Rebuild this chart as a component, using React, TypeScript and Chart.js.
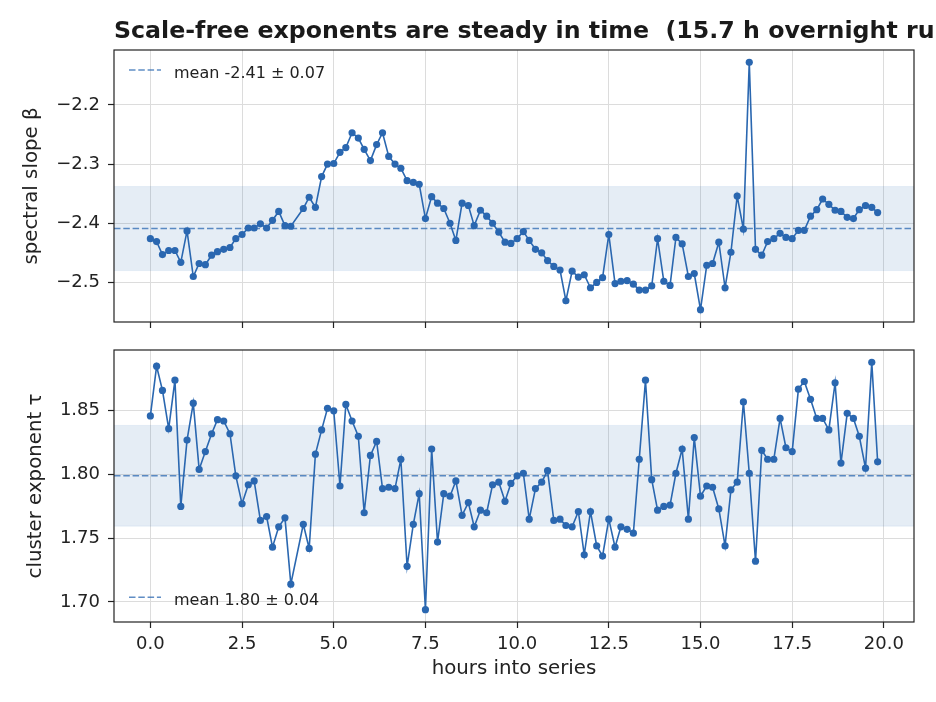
import React, { useEffect, useRef } from 'react';
import { Chart, registerables } from 'chart.js';

Chart.register(...registerables);

const TITLE = 'Scale-free exponents are steady in time  (15.7 h overnight run)';
const X_LABEL = 'hours into series';
const BETA_LABEL = 'spectral slope β';
const TAU_LABEL = 'cluster exponent τ';
const BETA_LEGEND = 'mean -2.41 ± 0.07';
const TAU_LEGEND = 'mean 1.80 ± 0.04';

// sample times (hours); the 4.00 h sample is missing
const hours = [
  0.0, 0.17, 0.33, 0.5, 0.67, 0.83,
  1.0, 1.17, 1.33, 1.5, 1.67, 1.83,
  2.0, 2.17, 2.33, 2.5, 2.67, 2.83,
  3.0, 3.17, 3.33, 3.5, 3.67, 3.83,
  4.17, 4.33, 4.5, 4.67, 4.83,
  5.0, 5.17, 5.33, 5.5, 5.67, 5.83,
  6.0, 6.17, 6.33, 6.5, 6.67, 6.83,
  7.0, 7.17, 7.33, 7.5, 7.67, 7.83,
  8.0, 8.17, 8.33, 8.5, 8.67, 8.83,
  9.0, 9.17, 9.33, 9.5, 9.67, 9.83,
  10.0, 10.17, 10.33, 10.5, 10.67, 10.83,
  11.0, 11.17, 11.33, 11.5, 11.67, 11.83,
  12.0, 12.17, 12.33, 12.5, 12.67, 12.83,
  13.0, 13.17, 13.33, 13.5, 13.67, 13.83,
  14.0, 14.17, 14.33, 14.5, 14.67, 14.83,
  15.0, 15.17, 15.33, 15.5, 15.67, 15.83,
  16.0, 16.17, 16.33, 16.5, 16.67, 16.83,
  17.0, 17.17, 17.33, 17.5, 17.67, 17.83,
  18.0, 18.17, 18.33, 18.5, 18.67, 18.83,
  19.0, 19.17, 19.33, 19.5, 19.67, 19.83,
];

const beta = [
  -2.426, -2.431, -2.453, -2.446, -2.446, -2.466,
  -2.413, -2.49, -2.468, -2.47, -2.454, -2.448,
  -2.444, -2.441, -2.426, -2.419, -2.408, -2.408,
  -2.401, -2.408, -2.395, -2.38, -2.404, -2.405,
  -2.375, -2.356, -2.373, -2.321, -2.3,
  -2.299, -2.28, -2.272, -2.247, -2.256, -2.275,
  -2.294, -2.267, -2.247, -2.287, -2.3, -2.307,
  -2.328, -2.331, -2.334, -2.392, -2.355, -2.366,
  -2.375, -2.4, -2.429, -2.366, -2.37, -2.404,
  -2.378, -2.388, -2.4, -2.415, -2.432, -2.434,
  -2.426, -2.414, -2.429, -2.444, -2.45, -2.463,
  -2.473, -2.479, -2.531, -2.481, -2.491, -2.487,
  -2.509, -2.5, -2.492, -2.419, -2.502, -2.498,
  -2.497, -2.503, -2.513, -2.513, -2.506, -2.426,
  -2.498, -2.505, -2.424, -2.435, -2.49, -2.485,
  -2.546, -2.471, -2.468, -2.432, -2.509, -2.449,
  -2.354, -2.41, -2.128, -2.444, -2.454, -2.431,
  -2.426, -2.417, -2.424, -2.426, -2.412, -2.412,
  -2.388, -2.377, -2.359, -2.368, -2.378, -2.38,
  -2.39, -2.392, -2.377, -2.37, -2.373, -2.382,
];

const tau = [
  1.846, 1.885, 1.866, 1.836, 1.874, 1.775,
  1.827, 1.856, 1.804, 1.818, 1.832, 1.843,
  1.842, 1.832, 1.799, 1.777, 1.792, 1.795,
  1.764, 1.767, 1.743, 1.759, 1.766, 1.714,
  1.761, 1.742, 1.816, 1.835, 1.852,
  1.85, 1.791, 1.855, 1.842, 1.83, 1.77,
  1.815, 1.826, 1.789, 1.79, 1.789, 1.812,
  1.728, 1.761, 1.785, 1.694, 1.82, 1.747,
  1.785, 1.783, 1.795, 1.768, 1.778, 1.759,
  1.772, 1.77, 1.792, 1.794, 1.779, 1.793,
  1.799, 1.801, 1.765, 1.789, 1.794, 1.803,
  1.764, 1.765, 1.76, 1.759, 1.771, 1.737,
  1.771, 1.744, 1.736, 1.765, 1.743, 1.759,
  1.757, 1.754, 1.812, 1.874, 1.796, 1.772,
  1.775, 1.776, 1.801, 1.82, 1.765, 1.829,
  1.783, 1.791, 1.79, 1.773, 1.744, 1.788,
  1.794, 1.857, 1.801, 1.732, 1.819, 1.812,
  1.812, 1.844, 1.821, 1.818, 1.867, 1.873,
  1.859, 1.844, 1.844, 1.835, 1.872, 1.809,
  1.848, 1.844, 1.83, 1.805, 1.888, 1.81,
];

const BETA_MEAN = -2.409;
const BETA_STD = 0.071;
const TAU_MEAN = 1.799;
const TAU_STD = 0.0395;

const xTicks = [0, 2.5, 5, 7.5, 10, 12.5, 15, 17.5, 20];
const betaTicks = [-2.5, -2.4, -2.3, -2.2];
const tauTicks = [1.7, 1.75, 1.8, 1.85];

const FONT = "'DejaVu Sans', sans-serif";
const INK = '#222222';
const LINE = '#2a67b0';
const MEAN_COLOR = 'rgba(42,103,176,0.75)';
const BAND_FILL = 'rgba(42,103,176,0.12)';
const BAND_EDGE = 'rgba(42,103,176,0.08)';
const GRID = '#dcdcdc';

const padRange = (arr: number[]) => {
  const lo = Math.min(...arr);
  const hi = Math.max(...arr);
  const m = (hi - lo) * 0.05;
  return [lo - m, hi + m];
};

const framePlugin = {
  id: 'frame',
  afterDraw(chart: any) {
    const { ctx, chartArea } = chart;
    ctx.save();
    ctx.strokeStyle = INK;
    ctx.lineWidth = 1.2;
    ctx.strokeRect(chartArea.left, chartArea.top, chartArea.right - chartArea.left, chartArea.bottom - chartArea.top);
    ctx.restore();
  },
};

const insideLegend = {
  id: 'insideLegend',
  afterDatasetsDraw(chart: any, _args: any, opts: any) {
    if (!opts || !opts.text) return;
    const { ctx, chartArea } = chart;
    const yLine = opts.corner === 'top' ? chartArea.top + 20 : chartArea.bottom - 24.7;
    const yText = yLine + 7.6;
    ctx.save();
    ctx.strokeStyle = MEAN_COLOR;
    ctx.lineWidth = 1.5;
    ctx.setLineDash([6.5, 2.8]);
    ctx.beginPath();
    ctx.moveTo(chartArea.left + 15, yLine);
    ctx.lineTo(chartArea.left + 47, yLine);
    ctx.stroke();
    ctx.setLineDash([]);
    ctx.fillStyle = INK;
    ctx.font = `16px ${FONT}`;
    ctx.textAlign = 'left';
    ctx.textBaseline = 'alphabetic';
    ctx.fillText(opts.text, chartArea.left + 60, yText);
    ctx.restore();
  },
};

type PanelSpec = {
  values: number[];
  mean: number;
  std: number;
  yTicks: number[];
  fmt: (v: number) => string;
  yLabel: string;
  legendText: string;
  corner: 'top' | 'bottom';
  showX: boolean;
  topPad: number;
  xHeight: number;
  yTitlePad: number;
};

function buildConfig(p: PanelSpec): any {
  const [xMin, xMax] = padRange(hours);
  const [yMin, yMax] = padRange(p.values);
  const points = hours.map((h, i) => ({ x: h, y: p.values[i] }));
  return {
    type: 'line',
    data: {
      datasets: [
        {
          data: points,
          borderColor: LINE,
          backgroundColor: LINE,
          borderWidth: 1.6,
          pointRadius: 3.6,
          pointBackgroundColor: LINE,
          pointBorderWidth: 0,
          fill: false,
          tension: 0,
        },
        {
          data: [{ x: xMin, y: p.mean }, { x: xMax, y: p.mean }],
          borderColor: MEAN_COLOR,
          borderWidth: 1.5,
          borderDash: [6.5, 2.8],
          pointRadius: 0,
          fill: false,
        },
        {
          data: [{ x: xMin, y: p.mean - p.std }, { x: xMax, y: p.mean - p.std }],
          borderColor: BAND_EDGE,
          borderWidth: 1,
          pointRadius: 0,
          fill: false,
        },
        {
          data: [{ x: xMin, y: p.mean + p.std }, { x: xMax, y: p.mean + p.std }],
          borderColor: BAND_EDGE,
          borderWidth: 1,
          pointRadius: 0,
          backgroundColor: BAND_FILL,
          fill: '-1',
        },
      ],
    },
    options: {
      responsive: false,
      maintainAspectRatio: false,
      animation: false,
      devicePixelRatio: 1,
      events: [],
      layout: { padding: { left: 0, right: 22, top: p.topPad, bottom: 0 } },
      plugins: {
        legend: { display: false },
        tooltip: { enabled: false },
        title: { display: false },
        insideLegend: { text: p.legendText, corner: p.corner },
      },
      scales: {
        x: {
          type: 'linear',
          min: xMin,
          max: xMax,
          afterBuildTicks: (ax: any) => {
            ax.ticks = xTicks.map((v) => ({ value: v }));
          },
          afterFit: (ax: any) => {
            ax.height = p.xHeight;
          },
          grid: { color: GRID, lineWidth: 1, drawTicks: true, tickLength: 6, tickColor: INK, tickWidth: 1.2 },
          border: { display: false },
          ticks: {
            display: p.showX,
            color: INK,
            font: { family: FONT, size: 18 },
            padding: 6,
            maxRotation: 0,
            autoSkip: false,
            callback: (v: any) => Number(v).toFixed(1),
          },
          title: {
            display: p.showX,
            text: X_LABEL,
            color: INK,
            font: { family: FONT, size: 19.8 },
            padding: { top: 0, bottom: 21 },
          },
        },
        y: {
          type: 'linear',
          min: yMin,
          max: yMax,
          afterBuildTicks: (ax: any) => {
            ax.ticks = p.yTicks.map((v) => ({ value: v }));
          },
          afterFit: (ax: any) => {
            ax.width = 114;
          },
          grid: { color: GRID, lineWidth: 1, drawTicks: true, tickLength: 6, tickColor: INK, tickWidth: 1.2 },
          border: { display: false },
          ticks: {
            color: INK,
            font: { family: FONT, size: 18 },
            padding: 8,
            callback: (v: any) => p.fmt(Number(v)),
          },
          title: {
            display: true,
            text: p.yLabel,
            color: INK,
            font: { family: FONT, size: 19.8 },
            padding: { top: p.yTitlePad, bottom: 0 },
          },
        },
      },
    },
    plugins: [framePlugin, insideLegend],
  };
}

const TOP_H = 345;
const BOT_TOP = 325;

export default function App() {
  const topRef = useRef<HTMLCanvasElement | null>(null);
  const botRef = useRef<HTMLCanvasElement | null>(null);

  useEffect(() => {
    const top = new Chart(
      topRef.current as HTMLCanvasElement,
      buildConfig({
        values: beta,
        mean: BETA_MEAN,
        std: BETA_STD,
        yTicks: betaTicks,
        fmt: (v) => v.toFixed(1).replace('-', '\u2212'),
        yLabel: BETA_LABEL,
        legendText: BETA_LEGEND,
        corner: 'top',
        showX: false,
        topPad: 50,
        xHeight: TOP_H - 322,
        yTitlePad: 20,
      })
    );
    const bot = new Chart(
      botRef.current as HTMLCanvasElement,
      buildConfig({
        values: tau,
        mean: TAU_MEAN,
        std: TAU_STD,
        yTicks: tauTicks,
        fmt: (v) => v.toFixed(2),
        yLabel: TAU_LABEL,
        legendText: TAU_LEGEND,
        corner: 'bottom',
        showX: true,
        topPad: 350 - BOT_TOP,
        xHeight: 702 - 622,
        yTitlePad: 23.8,
      })
    );
    return () => {
      top.destroy();
      bot.destroy();
    };
  }, []);

  return (
    <div
      style={{
        position: 'absolute',
        left: 0,
        top: 0,
        width: 936,
        height: 702,
        overflow: 'hidden',
        background: '#ffffff',
        fontFamily: FONT,
      }}
    >
      <canvas ref={topRef} width={936} height={TOP_H} style={{ position: 'absolute', left: 0, top: 0 }} />
      <canvas ref={botRef} width={936} height={702 - BOT_TOP} style={{ position: 'absolute', left: 0, top: BOT_TOP }} />
      <div
        style={{
          position: 'absolute',
          left: 114,
          top: 19,
          fontSize: 23.7,
          lineHeight: '23.7px',
          fontWeight: 'bold',
          whiteSpace: 'pre',
          color: '#1a1a1a',
        }}
      >
        {TITLE}
      </div>
    </div>
  );
}
